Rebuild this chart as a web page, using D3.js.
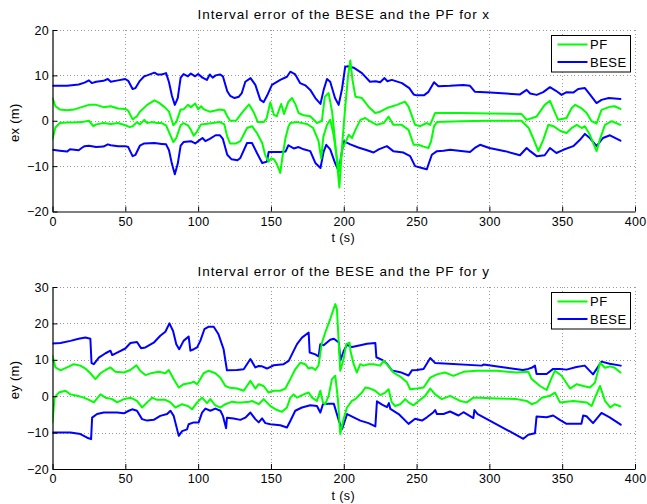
<!DOCTYPE html>
<html>
<head>
<meta charset="utf-8">
<script src="https://cdn.jsdelivr.net/npm/d3@7"></script>
<style>
  html, body { margin: 0; padding: 0; background: #fff; }
  svg { display: block; }
  text { font-family: "Liberation Sans", Arial, Helvetica, sans-serif; fill: #000; }
</style>
</head>
<body>
<svg id="chart" width="647" height="504"></svg>
<script>
// ---------------- DATA ----------------
const xTicks = [0, 50, 100, 150, 200, 250, 300, 350, 400];
const exTicks = [-20, -10, 0, 10, 20];
const eyTicks = [-20, -10, 0, 10, 20, 30];
const legendLabels = ["PF", "BESE"];
const titles = ["Interval error of the BESE and the PF for x", "Interval error of the BESE and the PF for y"];
const yLabels = ["ex (m)", "ey (m)"];
const xLabel = "t (s)";

// [t, value] pairs
const xBeseUpper = [[0,7.7],[10,7.7],[18,8.0],[22,8.4],[25,8.9],[27,8.3],[30,8.6],[35,8.8],[38,9.2],[40,8.6],[45,8.9],[50,9.2],[52,8.8],[55,7.0],[57,7.2],[60,8.8],[63,9.8],[65,10.0],[70,10.6],[72,10.2],[75,10.2],[78,10.5],[80,8.5],[82,5.5],[84,3.5],[86,5.0],[88,9.5],[90,10.3],[93,9.8],[95,10.4],[98,9.8],[100,10.3],[103,9.5],[106,9.0],[108,10.2],[110,9.5],[112,10.0],[115,10.2],[117,9.8],[120,6.5],[122,5.5],[125,5.0],[128,5.3],[130,6.1],[132.4,8.6],[136,9.4],[139.3,7.9],[142.7,4.6],[145,4.1],[147.3,5.5],[150.7,7.9],[156.4,9.0],[161,9.7],[163.3,10.8],[166.7,10.2],[170,8.3],[173.6,7.8],[177,6.8],[180.5,5.0],[184,3.7],[186.2,6.8],[188.5,9.2],[190.7,8.6],[194,5.0],[196.5,3.5],[198.8,7.0],[201,11.9],[203,12.0],[206.8,11.7],[212.5,10.5],[218,8.6],[222,8.7],[225,8.5],[228,9.4],[230,8.7],[233,9.0],[240,8.3],[245,7.2],[248,5.8],[250,5.6],[255,5.6],[258,6.3],[262,8.5],[265,7.6],[273,7.7],[282,7.9],[286.7,7.7],[290,6.4],[300.5,6.2],[321,5.8],[325.6,6.8],[328,6.0],[332.5,5.7],[337,6.3],[341.6,7.4],[345.7,6.6],[349.6,5.7],[353,6.3],[357.6,6.2],[361,7.0],[365.6,7.2],[369,5.8],[373.6,3.9],[377,4.6],[382,5.0],[390,4.8]];
const xBeseLower = [[0,-6.4],[5,-6.6],[10,-6.8],[12,-6.3],[18,-6.5],[20,-6.0],[22,-5.6],[25,-5.5],[30,-5.8],[35,-5.7],[38,-5.2],[40,-5.4],[45,-5.6],[50,-5.6],[52,-5.8],[55,-7.8],[57,-7.5],[60,-5.5],[63,-5.0],[70,-4.9],[75,-5.1],[78,-5.2],[80,-6.5],[82,-9.5],[84,-11.8],[86,-9.5],[88,-5.5],[90,-4.7],[95,-4.5],[98,-5.0],[100,-4.5],[103,-3.8],[105,-4.5],[108,-4.0],[112,-3.2],[115,-3.2],[117,-4.0],[120,-7.5],[123,-8.5],[127,-8.7],[129,-8.2],[133.6,-4.9],[137,-4.9],[140.4,-7.1],[144,-9.3],[147.3,-9.0],[148.4,-6.9],[156.4,-6.9],[160,-6.8],[162,-5.4],[165.6,-6.1],[169,-5.8],[172.5,-6.3],[177,-6.7],[180.5,-9.3],[184,-10.4],[186.2,-6.8],[188,-5.3],[190.7,-6.3],[194,-9.3],[196.5,-11.1],[200,-4.5],[204.5,-5.2],[210,-5.9],[216,-6.5],[220.5,-7.0],[224,-6.3],[229.6,-5.6],[234,-6.7],[241,-7.0],[245.6,-7.8],[249,-10.0],[253.6,-10.4],[257,-10.7],[260.5,-7.5],[264,-6.7],[268.5,-6.6],[273,-6.4],[286.7,-6.9],[290,-6.0],[293.6,-5.3],[300,-6.0],[310.8,-6.7],[321,-7.6],[325.6,-6.0],[328,-6.7],[332.5,-7.8],[338,-7.6],[341.6,-6.0],[346,-7.1],[350.8,-6.4],[357.6,-5.6],[362.2,-4.2],[365.6,-2.9],[369,-3.8],[373.6,-5.6],[378,-3.8],[382.8,-3.2],[390,-4.4]];
const xPFUpper = [[0,5.0],[2,3.2],[5,2.5],[10,2.3],[15,2.5],[20,3.0],[25,3.5],[30,3.5],[35,3.0],[40,3.2],[45,2.7],[50,2.6],[52,2.2],[55,0.3],[58,1.0],[60,2.0],[65,3.5],[70,4.5],[73,4.0],[77,3.0],[80,2.0],[83,-1.0],[85,-0.3],[88,2.5],[90,2.5],[93,3.5],[95,3.0],[98,3.8],[100,2.5],[102,3.2],[104,2.5],[108,2.0],[115,2.5],[118,2.3],[120,1.0],[122,0.0],[126,0.0],[129,1.3],[132,2.5],[135,3.6],[138,2.0],[141,-0.3],[145,-0.3],[147,0.5],[149.6,4.1],[152,1.3],[154,1.0],[157,3.7],[159,1.5],[162,4.2],[164.5,5.0],[167,3.5],[169,1.7],[172.5,1.2],[177,1.0],[181.6,-0.5],[185,0.0],[187,5.3],[189.6,6.1],[192,2.0],[194,-4.5],[197,-14.7],[199,-5],[201,3],[203,10],[204.5,13.3],[206,9],[208,5.3],[212.5,5.0],[217,3.1],[221.6,1.7],[225,2.0],[229.7,2.8],[236.5,3.5],[242,4.2],[244.5,3.1],[249,-0.9],[252.5,-1.2],[257,-0.5],[259.3,-0.9],[262.7,1.7],[280,1.7],[300,1.6],[322,1.5],[325.6,0.2],[332.5,0.95],[338,3.5],[341.6,4.4],[345.7,1.3],[347.3,0.2],[353,0.6],[356.5,2.8],[359,3.5],[363,2.8],[366.8,1.7],[370.2,-0.1],[373.6,-0.6],[377,2.4],[383,3.1],[386,3.2],[390,2.6]];
const xPFLower = [[0,-4.0],[2,-1.5],[5,-0.5],[10,-0.4],[15,-0.4],[20,-0.3],[25,0.0],[28,-1.2],[30,-0.8],[35,-0.5],[40,-0.7],[45,-0.5],[50,-1.0],[53,-1.4],[55,-1.2],[58,-0.3],[60,-0.8],[63,0.2],[65,-0.5],[68,-0.3],[72,-0.5],[75,-0.5],[78,-1.0],[80,-2.5],[83,-4.7],[85,-3.8],[88,-1.0],[90,-0.5],[93,-1.0],[95,-2.0],[97,-3.3],[99,-2.5],[102,-0.8],[105,-0.7],[110,-0.5],[115,-0.3],[118,-0.8],[120,-3.5],[122,-5.0],[126,-5.0],[129,-4.5],[133.6,-1.6],[137,-1.2],[140.4,-2.7],[144,-4.9],[146,-7.5],[148.4,-9.0],[150,-8.3],[152,-8.5],[154,-9.5],[156.4,-11.5],[158,-7.8],[160,-3.8],[162,-1.3],[163.3,-0.5],[168,-0.3],[174.7,-0.7],[179,-1.6],[182.7,-4.5],[184.5,-8.3],[186,-3.5],[188.5,-0.9],[190.7,0.2],[193,-3.1],[195.3,-8.2],[197,-11],[199,-6],[201,-4.9],[203.4,-3.1],[205.7,-3.8],[208,-2.0],[211.4,0.2],[214.8,0.6],[218,-0.1],[222.7,-0.9],[227.4,-0.5],[230.8,0.9],[234,-0.9],[239.7,-0.9],[244.5,-2.0],[248,-5.3],[251.4,-5.3],[254.8,-5.7],[258.2,-6.0],[260,-4.5],[262,-1.2],[264,-0.3],[280,-0.1],[300,0.0],[322,0.0],[327,-1.6],[330,-3.8],[333.6,-6.7],[337,-4.2],[340.5,-0.9],[344,-1.2],[348.5,-2.2],[353,-2.7],[356.5,-1.6],[360,-0.9],[363.4,-1.6],[365.6,-1.2],[369,-3.1],[373.6,-6.7],[376,-4.0],[379.4,-0.9],[384,-0.1],[390,-0.9]];

const yBeseUpper = [[0,14.5],[5.5,14.6],[12.3,15.2],[18,15.8],[22.6,16.1],[26,15.8],[26.8,9.1],[28.4,8.8],[31.8,10.6],[36.4,11.8],[39.8,12.5],[41,11.3],[44.4,12.0],[50,13.1],[53.5,14.6],[58,14.9],[60.8,13.2],[63.8,13.4],[69.5,14.7],[74,16.6],[77.5,17.7],[80.3,20.0],[82.8,17.9],[85,14.3],[87,12.9],[90,15.2],[93.5,16.4],[94.7,12.5],[97,12.9],[99.3,13.4],[101.5,15.2],[104.3,18.4],[107.3,19.1],[110.7,19.1],[114,17.0],[117.5,12.9],[119.8,7.1],[126.7,7.2],[131.3,7.4],[135.9,10.2],[139.3,7.9],[141.6,8.3],[143.9,8.2],[147.3,7.6],[151.9,8.5],[158.7,8.8],[162.2,9.7],[164.4,11.5],[167.9,14.3],[171.3,16.1],[175.9,17.5],[176.6,12.0],[180.5,11.5],[182.7,10.9],[183.9,14.3],[186.2,14.0],[190.7,15.5],[193.2,15.8],[196.6,14.8],[197.7,9.8],[200,12.5],[202.3,14.1],[205.7,13.5],[211.4,14.0],[216,14.4],[221.7,14.6],[222.4,10.7],[226.3,10.0],[229.7,8.9],[233,7.1],[238.8,6.6],[244.5,5.7],[246.8,7.1],[250.2,7.2],[254.8,7.5],[259.4,10.5],[262.8,9.1],[294.7,8.4],[296,8.7],[323,7.2],[326.7,7.5],[329,7.8],[331.3,8.4],[332.4,6.1],[339.3,6.1],[343.8,7.5],[348.4,7.5],[353,7.3],[359.8,8.0],[365.5,8.4],[371.2,6.0],[377,9.5],[382.6,8.9],[390.2,8.4]];
const yBeseLower = [[0,-10],[12.3,-10],[19.2,-10.4],[23.8,-11.4],[26.5,-11.8],[27.2,-5.9],[30.6,-4.9],[35.2,-4.5],[44.4,-4.5],[49,-4.7],[52.4,-4.0],[54.7,-3.6],[58,-4.0],[61.5,-6.3],[65,-6.7],[69.5,-6.5],[74,-5.4],[78.7,-4.9],[81,-4.0],[83.2,-5.4],[86.7,-10.9],[89,-9.6],[92.4,-9.1],[93.5,-7.7],[97,-7.2],[100.4,-7.2],[102.7,-4.5],[105,-3.4],[108.4,-4.0],[111.8,-3.4],[115.3,-4.0],[117,-5.4],[119.2,-8.8],[119.8,-5.9],[124.4,-6.1],[129,-6.5],[132.4,-5.9],[135.9,-4.5],[139.3,-6.3],[141.6,-7.2],[143.9,-6.1],[146.2,-7.4],[149.6,-7.7],[156.4,-8.0],[161,-8.6],[163.3,-6.8],[166.7,-4.0],[171.3,-3.1],[177,-2.5],[181.6,-2.7],[183.9,-4.5],[185.7,-2.2],[189.6,-2.1],[193.2,-2.1],[196.6,-6.7],[198.9,-9.0],[202.3,-4.9],[206.8,-5.8],[211.4,-6.7],[217,-7.4],[221.7,-8.3],[222.8,-1.4],[226.3,-2.3],[229.7,-3.0],[231,-1.9],[232,-3.5],[237.7,-4.9],[244.5,-7.6],[249,-6.2],[253.7,-6.7],[257.1,-5.8],[261.6,-4.4],[262.8,-3.8],[264,-4.9],[268.5,-4.9],[273,-4.2],[278.8,-5.3],[282.2,-4.4],[289,-6.0],[289.7,-3.8],[292,-4.9],[323.3,-11.7],[326.7,-10.6],[331.3,-10.2],[332.4,-5.6],[339.3,-5.8],[343.8,-5.3],[348.4,-6.5],[353,-7.6],[363.2,-7.6],[364.4,-5.3],[366.7,-5.5],[371.2,-7.4],[377,-4.6],[382.6,-5.8],[390.2,-7.8]];
const yPFUpper = [[0,11.1],[2,7.9],[5.5,7.1],[10,7.9],[14.6,8.8],[19.2,8.4],[22.6,7.6],[26,6.3],[29.5,4.7],[32.9,6.3],[36.4,7.2],[39.8,7.9],[43.2,6.7],[49,6.5],[53.5,7.2],[57.6,8.5],[60.4,6.9],[63.8,5.8],[68.4,6.4],[73,6.7],[77.5,6.3],[79.8,7.2],[83.2,4.7],[86.7,2.4],[90.1,3.3],[94.7,3.6],[97,4.0],[99.3,3.3],[101.5,4.7],[103.8,6.3],[107.3,7.0],[111.8,6.3],[115.3,5.1],[118.7,2.8],[122,2.3],[126.7,2.1],[131.3,1.5],[135.9,4.2],[139.3,2.1],[141.6,3.3],[145,2.8],[148.4,1.0],[151.9,1.5],[156.4,1.5],[159.9,2.1],[163.3,4.7],[166.7,7.4],[170.2,9.2],[173.6,8.8],[175.9,7.6],[178.2,7.9],[180.5,7.2],[182.7,8.5],[185,14.7],[187.3,17.5],[190.7,21.2],[194.2,25.3],[195.3,24],[196.5,15.2],[197.6,7.0],[199.9,10.2],[201.7,14.3],[204,14.7],[204.6,12.5],[206.8,8.8],[209,6.5],[211.3,8.8],[213.6,8.4],[217,8.8],[220.5,8.8],[225,8.4],[227.3,9.7],[229.6,8.8],[234.2,6.5],[238.8,5.4],[243.4,3.8],[245.6,1.9],[250.2,2.1],[254.8,2.4],[259.4,5.1],[264,6.0],[269.6,6.5],[275.3,5.6],[282.2,6.7],[291.3,7.0],[305,7.0],[318.8,6.5],[326.8,6.7],[329,4.7],[334.8,2.8],[339.3,1.7],[342.8,5.1],[345,7.0],[349.6,5.6],[355.4,2.1],[360,3.3],[364.5,2.8],[369,2.4],[372.5,3.7],[376,9.2],[379.4,7.8],[383,8.2],[386,7.8],[390,6.5]];
const yPFLower = [[0,-7.2],[1.4,-0.4],[4.3,1.0],[8.9,1.5],[12.3,0.5],[17,0.1],[21.5,-0.4],[25,-1.0],[28.4,-1.7],[32.9,0.5],[36.4,-0.4],[41,-0.8],[44.4,-1.7],[49,-0.8],[53.5,-0.4],[58,-1.3],[61.5,-3.1],[65,-1.7],[68.4,-0.4],[71.8,-1.0],[77.5,-1.0],[81,-1.7],[84.4,-3.1],[89,-2.2],[93.5,-2.8],[95.8,-3.6],[99.3,-1.7],[102.7,-0.4],[106.1,-1.9],[108.4,-0.8],[111.8,-2.5],[115.3,-3.1],[118.7,-2.2],[123.3,-1.5],[126.7,-1.7],[130.1,-1.7],[135.4,-1.5],[137,-1.3],[141.6,-2.2],[145,-0.8],[149.6,-2.7],[154.2,-3.8],[157.6,-4.3],[161,-3.1],[163.3,-0.4],[165.6,0.5],[167.9,-0.4],[172.5,0.5],[175.9,1.0],[178.2,-0.4],[181.6,-1.3],[183.9,1.5],[185.7,-1.7],[187.3,-2.2],[189.6,0.1],[191.9,4.7],[194.2,5.6],[196,-0.8],[197.6,-10.4],[199.9,-6.3],[202.2,-3.1],[205.6,-1.3],[207.9,-0.8],[210.2,0.1],[212.5,1.0],[214.8,2.4],[218.2,2.1],[221.6,1.5],[225,0.3],[228.5,1.0],[230.8,1.9],[233,-1.7],[235.3,-2.7],[238.8,-2.2],[242.2,-0.8],[244.5,-1.7],[247.9,-2.5],[251.4,-1.3],[255.9,0.1],[259.4,2.1],[262.8,0.5],[267.3,-0.8],[273,0.1],[279.9,-1.3],[284.5,-1.7],[289,-0.4],[293.6,-0.4],[305,-0.6],[318.8,-0.8],[325.6,-1.3],[329,-2.2],[332.5,-1.7],[336,-0.4],[341.6,0.1],[345,1.0],[348.5,-1.7],[357.6,-1.3],[366.8,-1.7],[370.2,-2.7],[372.5,-0.4],[376,2.8],[379.4,-1.3],[383,-3.1],[386,-2.2],[390,-2.8]];

// ---------------- DRAWING ----------------
const svg = d3.select("#chart");
const GREEN = "#00ff00", BLUE = "#0000ff";
const X0 = 52.5, X1 = 635;

const panels = [
  { top: 30, bottom: 211.5, domain: [-20, 20], ticks: exTicks, title: titles[0], ylab: yLabels[0],
    pf: [xPFUpper, xPFLower], bese: [xBeseUpper, xBeseLower] },
  { top: 287, bottom: 469, domain: [-20, 30], ticks: eyTicks, title: titles[1], ylab: yLabels[1],
    pf: [yPFUpper, yPFLower], bese: [yBeseUpper, yBeseLower] }
];

const fmt = v => (v < 0 ? "\u2212" + Math.abs(v) : String(v));

panels.forEach((p, i) => {
  const x = d3.scaleLinear().domain([0, 400]).range([X0, X1]);
  const y = d3.scaleLinear().domain(p.domain).range([p.bottom, p.top]);
  const g = svg.append("g");

  const cid = "clip" + i;
  svg.append("clipPath").attr("id", cid).append("rect")
    .attr("x", X0).attr("y", p.top - 1).attr("width", X1 - X0).attr("height", p.bottom - p.top + 1);

  // grid (dotted)
  const grid = g.append("g").attr("stroke", "#9a9a9a").attr("stroke-width", 1)
    .attr("stroke-dasharray", "1,2.5").attr("shape-rendering", "crispEdges");
  xTicks.forEach(t => {
    if (t === 0) return;
    grid.append("line").attr("x1", Math.round(x(t)) + 0.5).attr("x2", Math.round(x(t)) + 0.5)
      .attr("y1", p.top).attr("y2", p.bottom);
  });
  p.ticks.forEach(t => {
    if (t === p.domain[0]) return;
    grid.append("line").attr("y1", Math.round(y(t)) + 0.5).attr("y2", Math.round(y(t)) + 0.5)
      .attr("x1", X0).attr("x2", X1);
  });

  // lines
  const line = d3.line().x(d => x(d[0])).y(d => y(d[1]));
  const lg = g.append("g").attr("clip-path", `url(#${cid})`).attr("fill", "none")
    .attr("stroke-width", 2).attr("stroke-linejoin", "round").attr("stroke-linecap", "round");
  p.bese.forEach(s => lg.append("path").datum(s).attr("d", line).attr("stroke", BLUE));
  p.pf.forEach(s => lg.append("path").datum(s).attr("d", line).attr("stroke", GREEN));

  // axes (inward ticks)
  const xAxis = d3.axisBottom(x).tickValues(xTicks).tickSizeInner(-5).tickSizeOuter(0).tickPadding(5.5);
  const yAxis = d3.axisLeft(y).tickValues(p.ticks).tickSizeInner(-5).tickSizeOuter(0).tickPadding(3.5).tickFormat(fmt);
  const gx = g.append("g").attr("transform", `translate(0,${p.bottom})`).call(xAxis);
  const gy = g.append("g").attr("transform", `translate(${X0},0)`).call(yAxis);
  [gx, gy].forEach(a => {
    a.selectAll("path").attr("stroke", "#000").attr("stroke-width", 1.2);
    a.selectAll("line").attr("stroke", "#000").attr("stroke-width", 1);
    a.selectAll("text").attr("font-size", 12.5).attr("letter-spacing", "0.3px")
      .attr("font-family", '"Liberation Sans", Arial, sans-serif').attr("fill", "#000");
  });
  gx.selectAll("text").attr("dy", "0.71em");

  // title
  g.append("text").attr("x", (X0 + X1) / 2).attr("y", p.top - 11.5)
    .attr("text-anchor", "middle").attr("font-size", 13.5).attr("letter-spacing", "0.9px")
    .text(p.title);

  // x label
  g.append("text").attr("x", (X0 + X1) / 2 - 0.5).attr("y", p.bottom + 30.5)
    .attr("text-anchor", "middle").attr("font-size", 12.5).attr("letter-spacing", "0.4px").text(xLabel);

  // y label
  g.append("text")
    .attr("transform", `translate(19,${(p.top + p.bottom) / 2 + 2}) rotate(-90)`)
    .attr("text-anchor", "middle").attr("font-size", 13).attr("letter-spacing", "0.3px").text(p.ylab);

  // legend
  const lgX = 551.5, lgY = p.top + 5.5;
  const leg = g.append("g");
  leg.append("rect").attr("x", lgX).attr("y", lgY).attr("width", 79).attr("height", 36.5)
    .attr("fill", "#fff").attr("stroke", "#000").attr("stroke-width", 1);
  [GREEN, BLUE].forEach((c, k) => {
    const yy = lgY + 9 + k * 17.5;
    leg.append("line").attr("x1", lgX + 6).attr("x2", lgX + 36).attr("y1", yy).attr("y2", yy)
      .attr("stroke", c).attr("stroke-width", 2);
    leg.append("text").attr("x", lgX + 38.5).attr("y", yy + 4.5).attr("font-size", 13)
      .attr("letter-spacing", "0.5px").text(legendLabels[k]);
  });
});
</script>
</body>
</html>
